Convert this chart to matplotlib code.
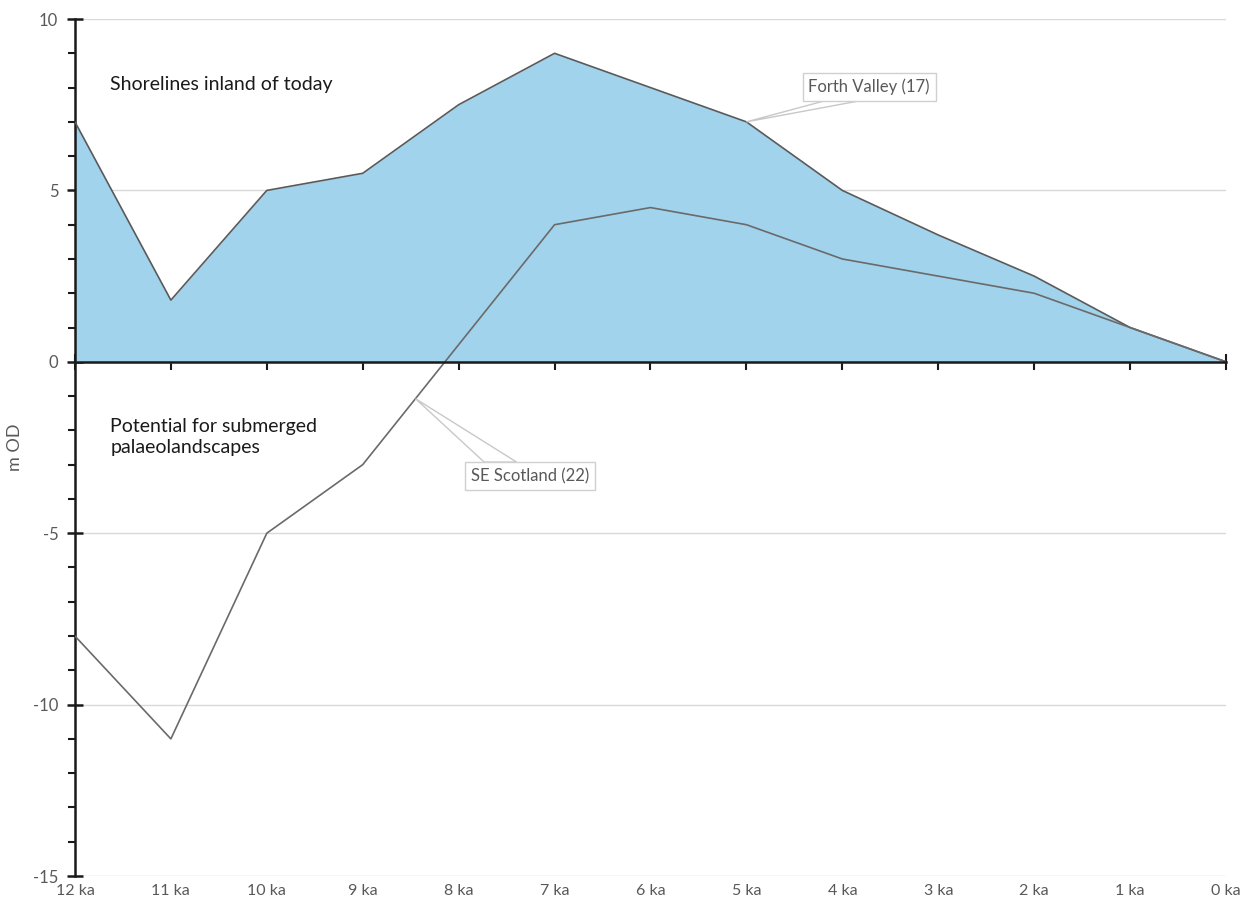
import matplotlib.pyplot as plt
from matplotlib.ticker import MultipleLocator
from matplotlib.patches import Polygon

# relative sea level (m OD) through the Holocene
ages = ["12 ka", "11 ka", "10 ka", "9 ka", "8 ka", "7 ka", "6 ka",
        "5 ka", "4 ka", "3 ka", "2 ka", "1 ka", "0 ka"]
forth_valley = [7, 1.8, 5, 5.5, 7.5, 9, 8, 7, 5, 3.7, 2.5, 1, 0]
se_scotland = [-8, -11, -5, -3, 0.5, 4, 4.5, 4, 3, 2.5, 2, 1, 0]

plt.rcParams['font.family'] = ['Lato', 'DejaVu Sans']
plt.rcParams['axes.unicode_minus'] = False

grey = '#595959'
x = list(range(len(ages)))

fig = plt.figure(figsize=(12.47, 9.06), dpi=100)
ax = fig.add_axes([0.0601, 0.0331, 0.9231, 0.9459])

ax.set_xlim(x[0], x[-1])
ax.set_ylim(-15, 10)

# gridlines
ax.yaxis.set_major_locator(MultipleLocator(5))
ax.yaxis.set_minor_locator(MultipleLocator(1))
ax.grid(axis='y', which='major', color='#d9d9d9', lw=1)
ax.set_axisbelow(True)

ax.fill_between(x, forth_valley, 0, color='#a2d3ec', lw=0, zorder=2)
ax.plot(x, forth_valley, color='#5a5a5a', lw=1.2, zorder=3)
ax.plot(x, se_scotland, color='#6a6a6a', lw=1.2, zorder=3)

# spines: x axis sits on zero
for s in ['top', 'right']:
    ax.spines[s].set_visible(False)
ax.spines['left'].set_color('#1a1a1a')
ax.spines['left'].set_linewidth(1.8)
ax.spines['bottom'].set_position(('data', 0))
ax.spines['bottom'].set_color('#1a1a1a')
ax.spines['bottom'].set_linewidth(1.8)
ax.spines['bottom'].set_zorder(4)

ax.set_xticks(x)
ax.tick_params(axis='x', direction='inout', length=12, width=1.5,
               color='#1a1a1a', labelbottom=False)
ax.tick_params(axis='y', which='major', direction='inout', length=12,
               width=1.8, color='#1a1a1a', labelsize=12, labelcolor=grey, pad=6)
ax.tick_params(axis='y', which='minor', direction='out', length=5,
               width=1.5, color='#1a1a1a')

# category labels along the bottom edge
sec = ax.secondary_xaxis('bottom')
sec.set_xticks(x)
sec.set_xticklabels(ages)
sec.tick_params(length=0, labelsize=11.5, labelcolor=grey, pad=6)
sec.spines['bottom'].set_visible(False)

ax.set_ylabel("m OD", fontsize=13, color=grey)
ax.yaxis.set_label_coords(-0.045, 0.5)

ax.text(0.37, 8.1, "Shorelines inland of today", fontsize=14,
        color='#1a1a1a', va='center', zorder=5)
ax.text(0.37, -2.2, "Potential for submerged\npalaeolandscapes",
        fontsize=14, color='#1a1a1a', va='center', linespacing=1.3, zorder=5)

# callout labels with a wedge pointing at the series
box = dict(boxstyle='square,pad=0.35', fc='white', ec='#d0d0d0', lw=1)
fv_label = ax.text(8.28, 8.02, "Forth Valley (17)", fontsize=12, color=grey,
                   ha='center', va='center', bbox=box, zorder=6)
se_label = ax.text(4.74, -3.33, "SE Scotland (22)", fontsize=12, color=grey,
                   ha='center', va='center', bbox=box, zorder=6)

fv_point = (x[7], forth_valley[7])
se_point = (3.55, se_scotland[3] + 0.55 * (se_scotland[4] - se_scotland[3]))

fig.canvas.draw()
inv = ax.transData.inverted()


def wedge(label, point, edge, f0, f1):
    bb = label.get_bbox_patch().get_window_extent()
    yy = bb.y0 if edge == 'bottom' else bb.y1
    a = inv.transform((bb.x0 + f0 * bb.width, yy))
    b = inv.transform((bb.x0 + f1 * bb.width, yy))
    ax.add_patch(Polygon([point, a, b], closed=True, fc='white',
                         ec='#c8c8c8', lw=1, zorder=5.5))


wedge(fv_label, fv_point, 'bottom', 0.16, 0.42)
wedge(se_label, se_point, 'top', 0.15, 0.40)

fig.savefig("out.png", dpi=100)
